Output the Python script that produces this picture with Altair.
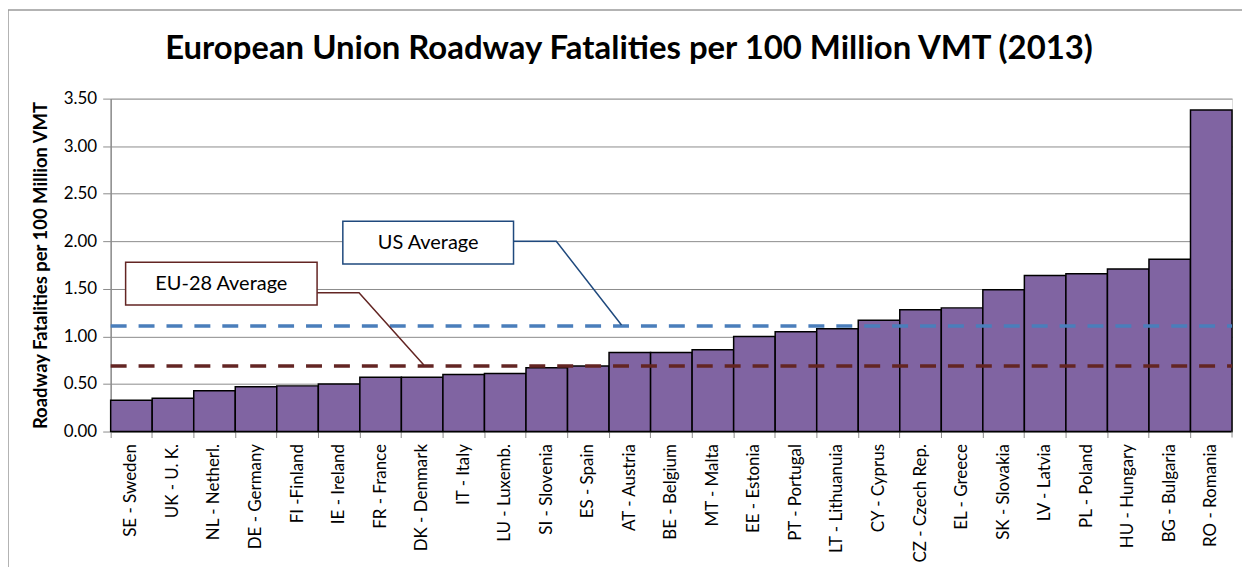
import altair as alt
import pandas as pd

countries = ["SE - Sweden", "UK - U. K.", "NL - Netherl.", "DE - Germany", "FI -Finland",
             "IE - Ireland", "FR - France", "DK - Denmark", "IT - Italy", "LU - Luxemb.",
             "SI - Slovenia", "ES - Spain", "AT - Austria", "BE - Belgium", "MT - Malta",
             "EE - Estonia", "PT - Portugal", "LT - Lithuanuia", "CY - Cyprus", "CZ - Czech Rep.",
             "EL - Greece", "SK - Slovakia", "LV - Latvia", "PL - Poland", "HU - Hungary",
             "BG - Bulgaria", "RO - Romania"]
rates = [0.33, 0.35, 0.43, 0.47, 0.48, 0.50, 0.57, 0.57, 0.60, 0.61,
         0.67, 0.69, 0.83, 0.83, 0.86, 1.00, 1.05, 1.08, 1.17, 1.28,
         1.30, 1.49, 1.64, 1.66, 1.71, 1.81, 3.38]
us_average = 1.11
eu_average = 0.69

title_text = "European Union Roadway Fatalities per 100 Million VMT (2013)"

callout_labels = ["US Average", "EU-28 Average"]
callout_x0 = [5.59, 0.36]
callout_x1 = [9.70, 4.97]
callout_y0 = [1.76, 1.33]
callout_y1 = [2.21, 1.78]
callout_colors = ["#1F497D", "#632523"]

# leader line vertices: (series, order, x, y)
leader_series = ["US", "US", "US", "EU", "EU", "EU"]
leader_order = [0, 1, 2, 0, 1, 2]
leader_x = [9.70, 10.73, 12.30, 4.97, 5.98, 7.54]
leader_y = [2.00, 2.00, 1.12, 1.46, 1.46, 0.70]

FONT = "Lato"
n = len(countries)

bars_df = pd.DataFrame({"country": countries, "rate": rates})
avg_df = pd.DataFrame({"name": ["US", "EU"], "value": [us_average, eu_average],
                       "x0": [0, 0], "x1": [n, n]})
box_df = pd.DataFrame({"label": callout_labels, "x0": callout_x0, "x1": callout_x1,
                       "y0": callout_y0, "y1": callout_y1, "color": callout_colors})
box_df["xm"] = (box_df.x0 + box_df.x1) / 2
box_df["ym"] = (box_df.y0 + box_df.y1) / 2
lead_df = pd.DataFrame({"series": leader_series, "order": leader_order,
                        "x": leader_x, "y": leader_y})

yscale = alt.Scale(domain=[0, 3.5], nice=False)
qx = alt.Scale(domain=[0, n], nice=False, zero=False)

bars = alt.Chart(bars_df).mark_bar(
    color="#8064A2", stroke="#000000", strokeWidth=1.5
).encode(
    x=alt.X("country:N", sort=None, title=None,
            scale=alt.Scale(paddingInner=0, paddingOuter=0),
            axis=alt.Axis(labelAngle=-90, labelFont=FONT, labelFontSize=17,
                          labelColor="#000000", labelPadding=6, bandPosition=0,
                          tickColor="#8C8C8C", tickSize=6, domainColor="#8C8C8C",
                          domainWidth=1.5, labelLimit=200)),
    y=alt.Y("rate:Q", scale=yscale,
            title="Roadway Fatalities per 100 Million VMT",
            axis=alt.Axis(values=[0, 0.5, 1, 1.5, 2, 2.5, 3, 3.5], format=".2f",
                          labelFont=FONT, labelFontSize=17, labelColor="#000000",
                          titleFont=FONT, titleFontSize=18.5, titleFontWeight="bold",
                          titleColor="#000000", titlePadding=13,
                          grid=True, gridColor="#8C8C8C", gridWidth=1,
                          domainColor="#8C8C8C", domainWidth=1.5,
                          tickColor="#8C8C8C", tickSize=8, labelPadding=6)),
)

last_tick = alt.Chart(pd.DataFrame({"x": [n]})).mark_rule(
    color="#8C8C8C", strokeWidth=1
).encode(x=alt.X("x:Q", scale=qx, axis=None), y=alt.value(334), y2=alt.value(340))

avg_lines = alt.Chart(avg_df).mark_rule(strokeWidth=3.5, strokeDash=[16, 12]).encode(
    x=alt.X("x0:Q", scale=qx, axis=None), x2="x1:Q",
    y=alt.Y("value:Q", scale=yscale),
    color=alt.Color("name:N", scale=alt.Scale(domain=["US", "EU"],
                                              range=["#4A7EBB", "#632523"]), legend=None),
)

leaders = alt.Chart(lead_df).mark_line(strokeWidth=1.5).encode(
    x=alt.X("x:Q", scale=qx, axis=None),
    y=alt.Y("y:Q", scale=yscale),
    order="order:Q",
    detail="series:N",
    color=alt.Color("series:N", scale=alt.Scale(domain=["US", "EU"],
                                                range=["#1F497D", "#632523"]), legend=None),
)

boxes = alt.Chart(box_df).mark_rect(fill="#FFFFFF", strokeWidth=1.5).encode(
    x=alt.X("x0:Q", scale=qx, axis=None), x2="x1:Q",
    y=alt.Y("y0:Q", scale=yscale), y2="y1:Q",
    stroke=alt.Stroke("color:N", scale=None),
)

box_text = alt.Chart(box_df).mark_text(font=FONT, fontSize=20, color="#000000",
                                       baseline="middle", align="center").encode(
    x=alt.X("xm:Q", scale=qx, axis=None),
    y=alt.Y("ym:Q", scale=yscale),
    text="label:N",
)

title = alt.Chart(pd.DataFrame({"t": [title_text]})).mark_text(
    font=FONT, fontSize=33, fontWeight="bold", color="#000000",
    align="center", baseline="middle"
).encode(x=alt.value(520), y=alt.value(-50), text="t:N")

frame_left = alt.Chart(pd.DataFrame({"a": [0]})).mark_rule(color="#9A9A9A", strokeWidth=1.5).encode(
    x=alt.value(-103), y=alt.value(-89), y2=alt.value(480))
frame_top = alt.Chart(pd.DataFrame({"a": [0]})).mark_rule(color="#9A9A9A", strokeWidth=1.5).encode(
    x=alt.value(-103), x2=alt.value(1140), y=alt.value(-89))

chart = alt.layer(
    bars, last_tick, avg_lines, leaders, boxes, box_text, title, frame_left, frame_top
).resolve_scale(
    x="independent", color="independent"
).properties(
    width=1125, height=334,
    autosize=alt.AutoSizeParams(type="none"),
    padding={"left": 103, "top": 90, "right": 10, "bottom": 135},
).configure_view(stroke=None).configure(background="#FFFFFF")

chart.save("out.html", embed_options={"renderer": "svg", "actions": False})
